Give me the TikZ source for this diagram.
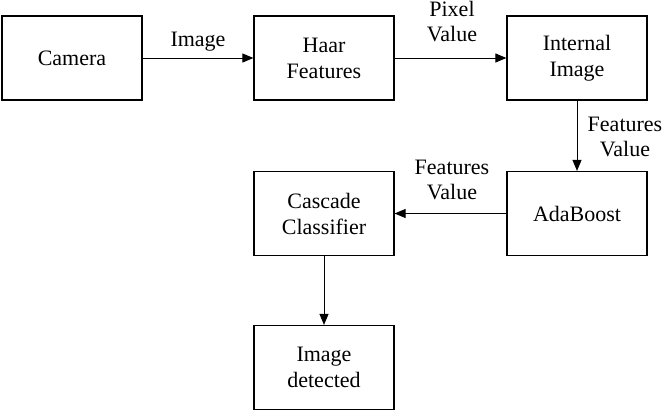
\documentclass[tikz,border=0pt]{standalone}
\usepackage{fontspec}
\setmainfont{LiberationSerif}[Extension=.ttf, UprightFont=*-Regular]
\usetikzlibrary{arrows.meta}
\tikzset{
  blk/.style={draw=black, line width=1.2pt, minimum width=140pt, minimum height=84pt, inner sep=0pt, align=center, font=\rmfamily\fontsize{22}{26}\selectfont},
  lbl/.style={align=center, inner sep=0pt, font=\rmfamily\fontsize{22}{25}\selectfont},
  conn/.style={line width=1pt, -{Triangle[length=11pt,width=9pt]}}
}
\begin{document}
\begin{tikzpicture}[x=1pt,y=-1pt]
\useasboundingbox (0,0) rectangle (666,415);
\node[blk] (cam) at (72,58) {Camera};
\node[blk] (haar) at (324,58) {Haar\\Features};
\node[blk] (int) at (577,58) {Internal\\Image};
\node[blk] (ada) at (577,213.5) {AdaBoost};
\node[blk] (cas) at (324,213.5) {Cascade\\Classifier};
\node[blk] (det) at (324,367.5) {Image\\detected};
\draw[conn] (cam) -- (haar);
\draw[conn] (haar) -- (int);
\draw[conn] (int) -- (ada);
\draw[conn] (ada) -- (cas);
\draw[conn] (cas) -- (det);
\node[lbl] (l1) at (198,42) {Image};
\node[lbl] (l2) at (452,22) {Pixel\\Value};
\node[lbl] (l3) at (625,137) {Features\\Value};
\node[lbl] (l4) at (452,180) {Features\\Value};
\end{tikzpicture}
\end{document}
